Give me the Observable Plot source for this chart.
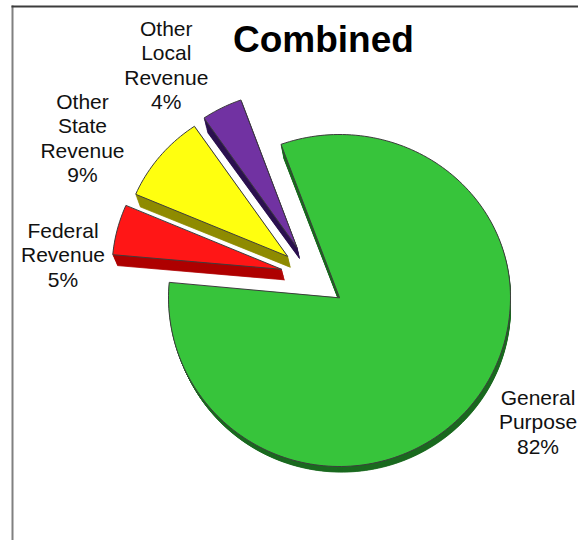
<!DOCTYPE html>
<html>
<head>
<meta charset="utf-8">
<style>
  html, body { margin: 0; padding: 0; background: #fff; }
  svg { display: block; }
</style>
<script src="https://cdn.jsdelivr.net/npm/d3@7"></script>
<script src="https://cdn.jsdelivr.net/npm/@observablehq/plot@0.6"></script>
</head>
<body>
<script>
// Revenue shares, clockwise from the large slice
const categories = ["General\nPurpose", "Federal\nRevenue", "Other\nState\nRevenue", "Other\nLocal\nRevenue"];
const shares = [82, 5, 9, 4];

// Slice appearance
const topColors = ["#37c43b", "#ff1616", "#ffff0f", "#7132a2"];
const sideColors = ["#1b6a20", "#ae0000", "#8f8c00", "#2d1350"];

// How far each slice is pulled out of the pie, and its size, in radius units
const explodeX = [0, -0.34, -0.305, -0.25];
const explodeY = [0, 0.173, 0.253, 0.309];
const radius = [1, 0.99, 0.965, 0.96];

// Label anchors in radius units
const labelX = [1.161, -1.617, -1.503, -1.013];
const labelY = [-0.734, 0.265, 0.98, 1.428];

const startAngle = -20 * Math.PI / 180;
const arcs = d3.pie().sort(null).startAngle(startAngle).endAngle(startAngle + 2 * Math.PI)(shares);

// Outline of one slice as a closed polygon, sampled along its arc
function outline(i) {
  const a = arcs[i];
  const steps = Math.ceil((a.endAngle - a.startAngle) / (Math.PI / 120));
  const pts = [{x: explodeX[i], y: explodeY[i]}];
  for (let k = 0; k <= steps; ++k) {
    const t = a.startAngle + (a.endAngle - a.startAngle) * k / steps;
    pts.push({
      x: explodeX[i] + radius[i] * Math.sin(t),
      y: explodeY[i] + radius[i] * Math.cos(t)
    });
  }
  return pts;
}

// The extruded wall: the outline pushed downward and slightly inward,
// further near the top of the view
const drop = (pts, t) => pts.map(p => ({
  x: p.x + t * 0.012 * (1 - p.x),
  y: p.y - t * (0.06 + 0.0267 * p.y)
}));

const marks = [
  Plot.frame({anchor: "left", stroke: "#808080", strokeWidth: 2}),
  Plot.frame({anchor: "top", stroke: "#3c3c3c", strokeWidth: 2})
];

// Painted back to front so the large slice sits on top
for (const i of [3, 2, 1, 0]) {
  const pts = outline(i);
  for (let s = 12; s >= 1; --s) {
    marks.push(Plot.line(drop(pts, s / 12), {
      x: "x", y: "y", curve: "linear-closed",
      fill: sideColors[i], stroke: sideColors[i], strokeWidth: 0.8
    }));
  }
  marks.push(Plot.line(pts, {
    x: "x", y: "y", curve: "linear-closed",
    fill: topColors[i], stroke: "#3d3d3d", strokeWidth: 1, strokeLinejoin: "round"
  }));
}

const labels = categories.map((name, i) => ({
  text: `${name}\n${shares[i]}%`, x: labelX[i], y: labelY[i]
}));
marks.push(Plot.text(labels, {
  x: "x", y: "y", text: "text",
  fontFamily: "Liberation Sans", fontSize: 21, lineHeight: 1.17,
  fill: "#111", textAnchor: "middle", lineAnchor: "middle"
}));
marks.push(Plot.text(["Combined"], {
  x: [-0.094], y: [1.58],
  fontFamily: "Liberation Sans", fontSize: 37, fontWeight: "bold",
  fill: "#000", textAnchor: "middle", lineAnchor: "middle"
}));

const chart = Plot.plot({
  width: 578,
  height: 540,
  marginLeft: 12, marginTop: 6, marginRight: 0, marginBottom: 0,
  x: {type: "linear", domain: [-1, 1], range: [168, 510], axis: null},
  y: {type: "linear", domain: [-1, 0, 1], range: [466, 297, 134], axis: null},
  marks
});
document.body.appendChild(chart);
</script>
</body>
</html>
